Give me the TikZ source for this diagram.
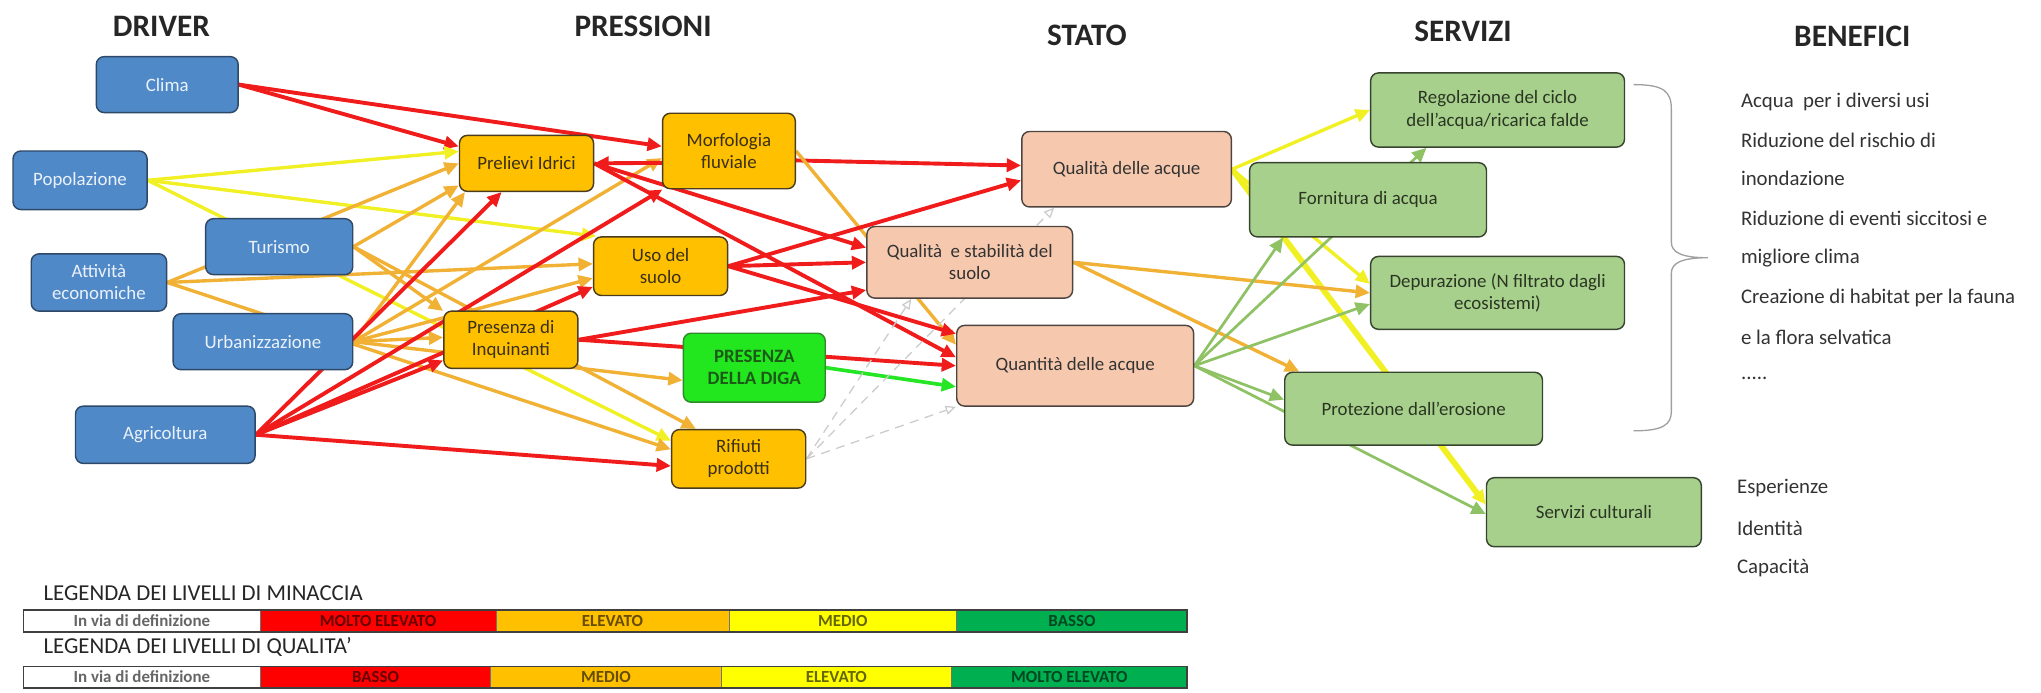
\documentclass[tikz,border=0pt]{standalone}
\usepackage{fontspec}
\setmainfont{Carlito}
\usetikzlibrary{arrows.meta,backgrounds}

\definecolor{drvblue}{HTML}{5089C8}
\definecolor{drvline}{HTML}{2E4868}
\definecolor{drvtext}{HTML}{EAF1FA}
\definecolor{prsorange}{HTML}{FFC000}
\definecolor{prsline}{HTML}{4A3C1C}
\definecolor{prstext}{HTML}{3A3018}
\definecolor{damgreen}{HTML}{22E61E}
\definecolor{damline}{HTML}{2E8A2A}
\definecolor{damtext}{HTML}{1C5A18}
\definecolor{stpeach}{HTML}{F6C9AE}
\definecolor{stline}{HTML}{4E4440}
\definecolor{sttext}{HTML}{333333}
\definecolor{svgreen}{HTML}{A8D08D}
\definecolor{svline}{HTML}{37452E}
\definecolor{svtext}{HTML}{2A3622}
\definecolor{arred}{HTML}{F01C1C}
\definecolor{arorange}{HTML}{F0B134}
\definecolor{aryellow}{HTML}{F0F024}
\definecolor{argreen}{HTML}{8EC264}
\definecolor{arbright}{HTML}{24E624}
\definecolor{lgred}{HTML}{FF0000}
\definecolor{lgorange}{HTML}{FFC000}
\definecolor{lgyellow}{HTML}{FFFF00}
\definecolor{lggreen}{HTML}{00B050}

\newcommand\bxfont{\fontsize{14.5}{17}\selectfont}
\newcommand\hdfont{\fontsize{24}{24}\selectfont\bfseries}
\newcommand\bnfont{\fontsize{16}{16}\selectfont}
\newcommand\lgfont{\fontsize{17.5}{17.5}\selectfont}
\newcommand\lcfont{\fontsize{13}{13}\selectfont\bfseries}

\begin{document}
\begin{tikzpicture}[x=1pt, y=-1pt, ->, >={Triangle[length=11pt,width=10pt]},
    box/.style={draw, line width=1.1pt, rounded corners=6pt, align=center, font=\bxfont, inner sep=2pt},
    driver/.style={box, draw=drvline, fill=drvblue, text=drvtext},
    pressure/.style={box, draw=prsline, fill=prsorange, text=prstext},
    state/.style={box, draw=stline, fill=stpeach, text=sttext},
    service/.style={box, draw=svline, fill=svgreen, text=svtext},
    heading/.style={font=\hdfont, text=black!85},
    benefit/.style={anchor=west, font=\bnfont, text=black!80},
    legtitle/.style={anchor=west, font=\lgfont, text=black!85},
    legtext/.style={font=\lcfont},
    redarr/.style={draw=arred, line width=3pt},
    orangearr/.style={draw=arorange, line width=2.6pt},
    yellowarr/.style={draw=aryellow, line width=2.6pt},
    yellowthick/.style={draw=aryellow, line width=4.5pt},
    greenarr/.style={draw=argreen, line width=2.1pt},
    damarr/.style={draw=arbright, line width=2.8pt},
    wastearr/.style={draw=gray!40, line width=1pt, dash pattern=on 7pt off 5pt, -{Triangle[open,length=8pt,width=7pt]}}
  ]
  \useasboundingbox (0,0) rectangle (1568,532);

  \node[heading] (hdriver) at (124,20) {DRIVER};
  \node[heading] (hpress) at (494,20) {PRESSIONI};
  \node[heading] (hstate) at (835,27) {STATO};
  \node[heading] (hserv) at (1124,24) {SERVIZI};
  \node[heading] (hben) at (1423,28) {BENEFICI};

  \node[driver, minimum width=109pt, minimum height=43pt] (clima) at (128.5,65) {Clima};
  \node[driver, minimum width=103pt, minimum height=45pt] (popol) at (61.5,138.5) {Popolazione};
  \node[driver, minimum width=113pt, minimum height=43pt] (turismo) at (214.5,189.5) {Turismo};
  \node[driver, minimum width=104pt, minimum height=44pt] (attiv) at (76,217) {Attività\\economiche};
  \node[driver, minimum width=138pt, minimum height=43pt] (urban) at (202,262.5) {Urbanizzazione};
  \node[driver, minimum width=138pt, minimum height=44pt] (agric) at (127,334) {Agricoltura};

  \node[pressure, minimum width=103pt, minimum height=43pt] (prel) at (404.5,125.5) {Prelievi Idrici};
  \node[pressure, minimum width=102pt, minimum height=58pt] (morf) at (560,116) {Morfologia\\fluviale};
  \node[pressure, minimum width=103pt, minimum height=45pt] (uso) at (507.5,204.5) {Uso del\\suolo};
  \node[pressure, minimum width=103pt, minimum height=44pt] (inq) at (392.5,261) {Presenza di\\Inquinanti};
  \node[pressure, fill=damgreen, draw=damline, text=damtext, font=\bxfont\bfseries,
        minimum width=109pt, minimum height=53pt] (diga) at (579.5,282.5) {PRESENZA\\DELLA DIGA};
  \node[pressure, minimum width=103pt, minimum height=45pt] (rifiuti) at (567.5,352.5) {Rifiuti\\prodotti};

  \node[state, minimum width=161pt, minimum height=58pt] (qacque) at (865.5,130) {Qualità delle acque};
  \node[state, minimum width=158pt, minimum height=55pt] (qsuolo) at (745,201.5) {Qualità~~e stabilità del\\suolo};
  \node[state, minimum width=182pt, minimum height=62pt] (quant) at (826,281) {Quantità delle acque};

  \node[service, minimum width=195pt, minimum height=57pt] (regol) at (1150.5,84.5) {Regolazione del ciclo\\dell'acqua/ricarica falde};
  \node[service, minimum width=182pt, minimum height=57pt] (fornit) at (1051,153.5) {Fornitura di acqua};
  \node[service, minimum width=195pt, minimum height=56pt] (depur) at (1150.5,225) {Depurazione (N filtrato dagli\\ecosistemi)};
  \node[service, minimum width=198pt, minimum height=56pt] (protez) at (1086,314) {Protezione dall’erosione};
  \node[service, minimum width=165pt, minimum height=53pt] (cultur) at (1224.5,393.5) {Servizi culturali};

  \begin{scope}[on background layer]
    \path (clima.east) edge[redarr] (prel.166)
          (clima.east) edge[redarr] (morf.176);
    \path (popol.east) edge[yellowarr] (prel.170)
          (popol.east) edge[yellowarr] (uso.155)
          (popol.east) edge[yellowarr] (rifiuti.165);
    \path (attiv.east) edge[orangearr] (prel.180)
          (attiv.east) edge[orangearr] (uso.178)
          (attiv.east) edge[orangearr] (rifiuti.172);
    \path (turismo.east) edge[orangearr] (prel.198)
          (turismo.east) edge[orangearr] (inq.157)
          (turismo.east) edge[orangearr] (rifiuti.145);
    \path (urban.east) edge[orangearr] (prel.205)
          (urban.east) edge[orangearr] (morf.186)
          (urban.east) edge[orangearr] (uso.190)
          (urban.east) edge[orangearr] (inq.178)
          (urban.east) edge[orangearr] (diga.190);
    \path (agric.east) edge[redarr] (prel.229)
          (agric.east) edge[redarr] (morf.210)
          (agric.east) edge[redarr] (uso.197)
          (agric.east) edge[redarr] (inq.197)
          (agric.east) edge[redarr] (rifiuti.186);

    \path (morf.190) edge[redarr] (prel.east)
          (morf.352) edge[redarr] (qacque.178)
          (morf.east) edge[orangearr] (quant.170);
    \path (prel.east) edge[redarr] (qsuolo.172)
          (prel.east) edge[redarr] (quant.176);
    \path (uso.east) edge[redarr] (qacque.186)
          (uso.east) edge[redarr] (qsuolo.180)
          (uso.east) edge[redarr] (quant.165);
    \path (inq.east) edge[redarr] (qsuolo.195)
          (inq.east) edge[redarr] (quant.180);
    \path (diga.east) edge[damarr] (quant.190);
    \path (rifiuti.east) edge[wastearr] (qsuolo.212)
          (rifiuti.east) edge[wastearr] (qacque.208)
          (rifiuti.east) edge[wastearr] (quant.199);

    \path (qacque.east) edge[yellowarr] (regol.west)
          (qacque.east) edge[yellowarr] (depur.176)
          (qacque.east) edge[yellowthick] (cultur.176);
    \path (qsuolo.east) edge[orangearr] (depur.180)
          (qsuolo.east) edge[orangearr] (protez.162);
    \path (quant.east) edge[greenarr] (fornit.204)
          (quant.east) edge[greenarr] (regol.208)
          (quant.east) edge[greenarr] (depur.185)
          (quant.east) edge[greenarr] (protez.176)
          (quant.east) edge[greenarr] (cultur.181);
  \end{scope}

  \draw[-, gray!75, line width=1pt] (1255,65) .. controls (1278,65) and (1284,70) .. (1284,84)
        -- (1284,186) .. controls (1284,194) and (1292,198) .. (1312,198)
        .. controls (1292,198) and (1284,202) .. (1284,210)
        -- (1284,316) .. controls (1284,326) and (1278,331) .. (1255,331);

  \node[benefit] (b1) at (1334,78) {Acqua~~per i diversi usi};
  \node[benefit] (b2) at (1334,108) {Riduzione del rischio di};
  \node[benefit] (b3) at (1334,137) {inondazione};
  \node[benefit] (b4) at (1334,168) {Riduzione di eventi siccitosi e};
  \node[benefit] (b5) at (1334,198) {migliore clima};
  \node[benefit] (b6) at (1334,229) {Creazione di habitat per la fauna};
  \node[benefit] (b7) at (1334,259) {e la flora selvatica};
  \node[benefit] (b8) at (1334,291) {.....};
  \node[benefit] (c1) at (1331,375) {Esperienze};
  \node[benefit] (c2) at (1331,406) {Identità};
  \node[benefit] (c3) at (1331,436) {Capacità};

  \node[legtitle] (legthreat) at (30,456) {LEGENDA DEI LIVELLI DI MINACCIA};
  \foreach \xa/\xb/\fillc/\tx in {18/200/white/In via di definizione, 200/381/lgred/MOLTO ELEVATO,
      381/560/lgorange/ELEVATO, 560/735/lgyellow/MEDIO, 735/912/lggreen/BASSO}
    \draw[-, draw=black!55, line width=0.6pt, fill=\fillc] (\xa,468.5) rectangle (\xb,485.5)
      node[legtext, text=\fillc!40!black] at ({(\xa+\xb)/2},477) {\tx};
  \draw[-, black!75, line width=1.2pt] (18,468.5) rectangle (912,485.5);

  \node[legtitle] (legquality) at (30,497) {LEGENDA DEI LIVELLI DI QUALITA’};
  \foreach \xa/\xb/\fillc/\tx in {18/200/white/In via di definizione, 200/377/lgred/BASSO,
      377/554/lgorange/MEDIO, 554/731/lgyellow/ELEVATO, 731/912/lggreen/MOLTO ELEVATO}
    \draw[-, draw=black!55, line width=0.6pt, fill=\fillc] (\xa,512) rectangle (\xb,528.5)
      node[legtext, text=\fillc!40!black] at ({(\xa+\xb)/2},520) {\tx};
  \draw[-, black!75, line width=1.2pt] (18,512) rectangle (912,528.5);
\end{tikzpicture}
\end{document}
